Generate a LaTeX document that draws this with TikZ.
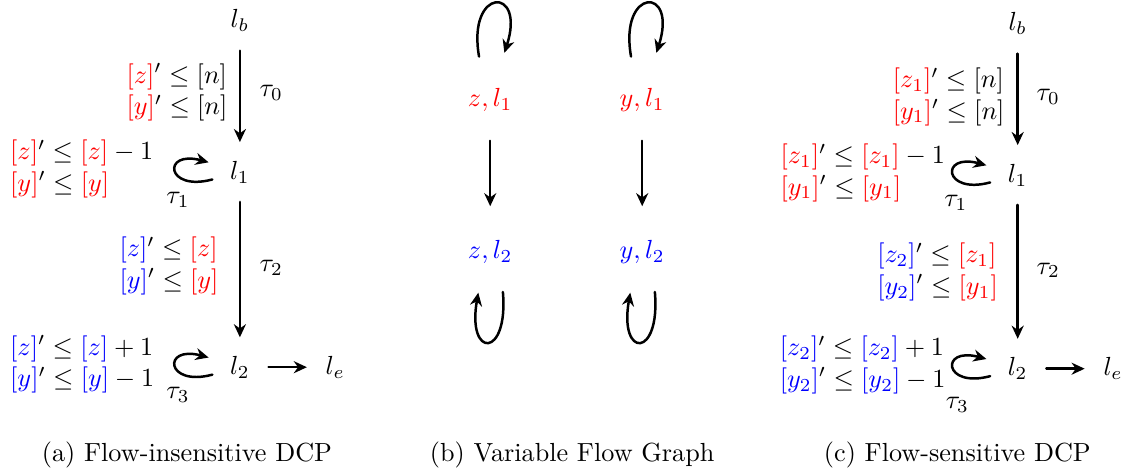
\documentclass[tikz,border=0pt]{standalone}
\usepackage{amsmath,amssymb}
\usepackage{xcolor}
\usepackage{tikz}
\usetikzlibrary{arrows.meta,calc}

\newcommand{\redv}[1]{\textcolor{red}{#1}}
\newcommand{\bluv}[1]{\textcolor{blue}{#1}}

\begin{document}
\begin{tikzpicture}[x=1cm,y=1cm,line cap=round,line join=round,
    flow/.style={line width=0.95pt,-{Stealth[length=5pt,width=4.6pt]}},
    loc/.style={inner sep=7pt},
    cons/.style={inner sep=0pt,align=left},
    lab/.style={inner sep=0pt}]
  \path[use as bounding box] (0,0) rectangle (15.275,6.349);

  % (a) flow-insensitive program
  \node[loc] (alb) at (3.22,6.07) {$l_b$};
  \node[loc] (al1) at (3.22,4.04) {$l_1$};
  \node[loc] (al2) at (3.22,1.42) {$l_2$};
  \node[loc] (ale) at (4.50,1.42) {$l_e$};
  \draw[flow] (alb) -- (al1);
  \draw[flow] (al1) -- (al2);
  \draw[flow] (al2) -- (ale);

  \node[cons,anchor=east] (ac0) at (3.06,5.11)
    {$\redv{[z]}' \le [n]$\\ $\redv{[y]}' \le [n]$};
  \node[lab] (at0) at (3.64,5.10) {$\tau_0$};
  \node[cons,anchor=west] (ac1) at (0.13,4.08)
    {$\redv{[z]}' \le \redv{[z]} - 1$\\ $\redv{[y]}' \le \redv{[y]}$};
  \node[lab] (at1) at (2.39,3.66) {$\tau_1$};
  \node[cons,anchor=east] (ac2) at (2.94,2.78)
    {$\bluv{[z]}' \le \redv{[z]}$\\ $\bluv{[y]}' \le \redv{[y]}$};
  \node[lab] (at2) at (3.64,2.75) {$\tau_2$};
  \node[cons,anchor=west] (ac3) at (0.13,1.46)
    {$\bluv{[z]}' \le \bluv{[z]} + 1$\\ $\bluv{[y]}' \le \bluv{[y]} - 1$};
  \node[lab] (at3) at (2.39,1.05) {$\tau_3$};
  \node (capa) at (2.51,0.24) {(a) Flow-insensitive DCP};

  % (b) variable flow graph
  \node[text=red] (zl1) at (6.58,5.01) {$z, l_1$};
  \node[text=red] (yl1) at (8.62,5.01) {$y, l_1$};
  \node[text=blue] (zl2) at (6.58,2.97) {$z, l_2$};
  \node[text=blue] (yl2) at (8.62,2.97) {$y, l_2$};
  \draw[flow,shorten <=2.7mm,shorten >=3.3mm] (zl1) -- (zl2);
  \draw[flow,shorten <=2.7mm,shorten >=3.3mm] (yl1) -- (yl2);
  \foreach \n in {zl1,yl1}
    \draw[flow] ($(\n)+(-0.15,0.58)$) to[out=100,in=72,distance=0.95cm]
      ($(\n)+(0.19,0.63)$);
  \foreach \n in {zl2,yl2}
    \draw[flow] ($(\n)+(0.17,-0.54)$) to[out=-85,in=-100,distance=0.9cm]
      ($(\n)+(-0.16,-0.55)$);
  \node (capb) at (7.68,0.24) {(b) Variable Flow Graph};

  % (c) flow-sensitive program
  \node[loc] (clb) at (13.66,6.03) {$l_b$};
  \node[loc] (cl1) at (13.66,4.00) {$l_1$};
  \node[loc] (cl2) at (13.66,1.40) {$l_2$};
  \node[loc] (cle) at (14.94,1.40) {$l_e$};
  \draw[flow] (clb) -- (cl1);
  \draw[flow] (cl1) -- (cl2);
  \draw[flow] (cl2) -- (cle);

  \node[cons,anchor=east] (cc0) at (13.49,5.05)
    {$\redv{[z_1]}' \le [n]$\\ $\redv{[y_1]}' \le [n]$};
  \node[lab] (ct0) at (14.07,5.05) {$\tau_0$};
  \node[cons,anchor=west] (cc1) at (10.47,4.03)
    {$\redv{[z_1]}' \le \redv{[z_1]} - 1$\\ $\redv{[y_1]}' \le \redv{[y_1]}$};
  \node[lab] (ct1) at (12.83,3.62) {$\tau_1$};
  \node[cons,anchor=east] (cc2) at (13.40,2.70)
    {$\bluv{[z_2]}' \le \redv{[z_1]}$\\ $\bluv{[y_2]}' \le \redv{[y_1]}$};
  \node[lab] (ct2) at (14.07,2.72) {$\tau_2$};
  \node[cons,anchor=west] (cc3) at (10.46,1.45)
    {$\bluv{[z_2]}' \le \bluv{[z_2]} + 1$\\ $\bluv{[y_2]}' \le \bluv{[y_2]} - 1$};
  \node[lab] (ct3) at (12.85,0.91) {$\tau_3$};
  \node (capc) at (12.85,0.24) {(c) Flow-sensitive DCP};

  % self loops at the locations
  \foreach \n in {al1,al2,cl1,cl2}
    \draw[flow] ($(\n)+(-0.37,-0.10)$) to[out=195,in=165,distance=0.65cm]
      ($(\n)+(-0.42,0.13)$);
\end{tikzpicture}
\end{document}
